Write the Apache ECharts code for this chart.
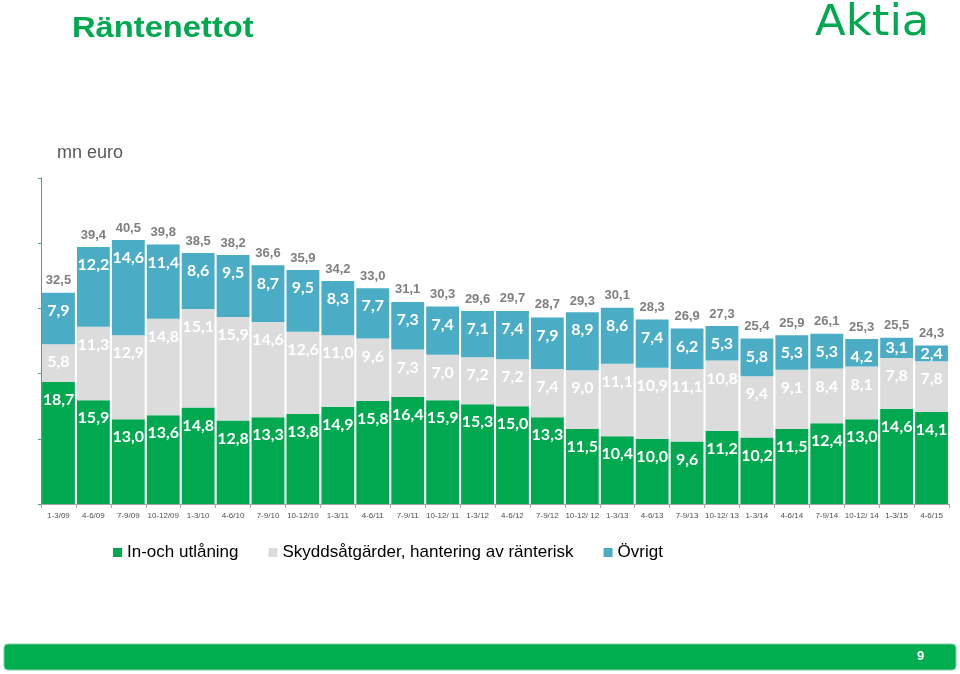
<!DOCTYPE html>
<html>
<head>
<meta charset="utf-8">
<script src="https://cdn.jsdelivr.net/npm/echarts@6/dist/echarts.min.js"></script>
<style>html,body{margin:0;padding:0;background:#fff;}#c{width:960px;height:674px;}</style>
</head>
<body>
<div id="c"></div>
<script>
const categories = ['1-3/09','4-6/09','7-9/09','10-12/09','1-3/10','4-6/10','7-9/10','10-12/10','1-3/11','4-6/11','7-9/11','10-12/ 11','1-3/12','4-6/12','7-9/12','10-12/ 12','1-3/13','4-6/13','7-9/13','10-12/ 13','1-3/14','4-6/14','7-9/14','10-12/ 14','1-3/15','4-6/15'];
const inOchUtlaning = [18.7,15.9,13.0,13.6,14.8,12.8,13.3,13.8,14.9,15.8,16.4,15.9,15.3,15.0,13.3,11.5,10.4,10.0,9.6,11.2,10.2,11.5,12.4,13.0,14.6,14.1];
const skyddsatgarder = [5.8,11.3,12.9,14.8,15.1,15.9,14.6,12.6,11.0,9.6,7.3,7.0,7.2,7.2,7.4,9.0,11.1,10.9,11.1,10.8,9.4,9.1,8.4,8.1,7.8,7.8];
const ovrigt = [7.9,12.2,14.6,11.4,8.6,9.5,8.7,9.5,8.3,7.7,7.3,7.4,7.1,7.4,7.9,8.9,8.6,7.4,6.2,5.3,5.8,5.3,5.3,4.2,3.1,2.4];
const totals = [32.5,39.4,40.5,39.8,38.5,38.2,36.6,35.9,34.2,33.0,31.1,30.3,29.6,29.7,28.7,29.3,30.1,28.3,26.9,27.3,25.4,25.9,26.1,25.3,25.5,24.3];
const seriesNames = ['In-och utlåning','Skyddsåtgärder, hantering av ränterisk','Övrigt'];
const colors = ['#00a94f','#dcdcdc','#4bacc6'];

function fmt(v){ return v.toFixed(1).replace('.', ','); }
function seg(arr){
  return arr.map(v => ({ value: v, label: { position: v >= 4 ? 'insideTop' : 'inside', distance: 10 } }));
}
const lbl = { show: true, color: '#fff', fontFamily: 'Lato', fontWeight: 'bold', fontSize: 16,
  formatter: p => fmt(p.value) };

const chart = echarts.init(document.getElementById('c'), null, { renderer: 'canvas' });
chart.setOption({
  animation: false,
  backgroundColor: '#fff',
  grid: { left: 41, right: 11, top: 178, bottom: 170, containLabel: false },
  legend: {
    data: seriesNames, left: 108, top: 539, itemWidth: 9, itemHeight: 9, itemGap: 30, icon: 'rect',
    textStyle: { fontSize: 17, color: '#000', fontFamily: 'Liberation Sans' }
  },
  xAxis: {
    type: 'category', data: categories,
    axisLine: { lineStyle: { color: '#a6a6a6' } },
    axisTick: { show: true, length: 4, lineStyle: { color: '#a6a6a6' } },
    axisLabel: { fontSize: 8, color: '#505050', margin: 8, fontFamily: 'Liberation Sans', interval: 0 }
  },
  yAxis: {
    type: 'value', min: 0, max: 50, interval: 10,
    axisLine: { show: true, lineStyle: { color: '#5c9a86' } },
    axisTick: { show: true, length: 3, lineStyle: { color: '#5c9a86' } },
    axisLabel: { show: false },
    splitLine: { show: false }
  },
  series: [
    { name: seriesNames[0], type: 'bar', stack: 'a', data: seg(inOchUtlaning), barCategoryGap: '6%', itemStyle: { color: colors[0] }, label: lbl },
    { name: seriesNames[1], type: 'bar', stack: 'a', data: seg(skyddsatgarder), itemStyle: { color: colors[1] }, label: lbl },
    { name: seriesNames[2], type: 'bar', stack: 'a', data: seg(ovrigt), itemStyle: { color: colors[2] }, label: lbl },
    { name: 'Total', type: 'line', data: totals, symbol: 'circle', symbolSize: 1, silent: true,
      itemStyle: { color: 'rgba(0,0,0,0)' }, lineStyle: { opacity: 0 },
      label: { show: true, position: 'top', distance: 5, color: '#7f7f7f', fontWeight: 'bold', fontSize: 13,
        fontFamily: 'Liberation Sans', formatter: p => fmt(p.value) } }
  ],
  graphic: [
    { type: 'text', x: 72, y: 14, scaleX: 1.09, style: { text: 'Räntenettot', fill: '#00a94f', font: 'bold 30px "Liberation Sans"' } },
    { type: 'text', x: 815, y: 3, scaleX: 1.07, style: { text: 'Aktia', fill: '#00a94f', font: '42px "DejaVu Sans"' } },
    { type: 'text', x: 57, y: 144, style: { text: 'mn euro', fill: '#595959', font: '18px "Liberation Sans"' } },
    { type: 'rect', shape: { x: 4, y: 644, width: 952, height: 26, r: 4 }, style: { fill: '#00ad4f', stroke: '#7fd0a2', lineWidth: 1 } },
    { type: 'text', x: 917, y: 650, style: { text: '9', fill: '#fff', font: 'bold 13px "Liberation Sans"' } }
  ]
});
</script>
</body>
</html>
